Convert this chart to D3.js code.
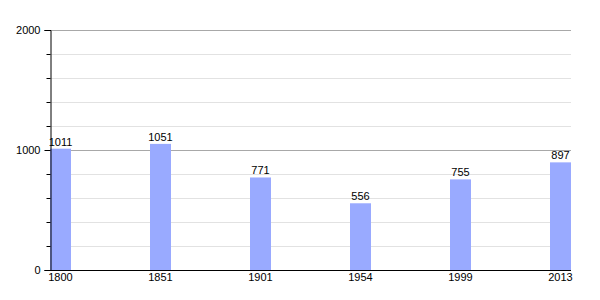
<!DOCTYPE html>
<html>
<head>
<meta charset="utf-8">
<script src="https://cdn.jsdelivr.net/npm/d3@7"></script>
<style>
  body { margin: 0; background: #fff; }
  svg text { font-family: "Liberation Sans", Arial, sans-serif; font-size: 11px; fill: #000; }
</style>
</head>
<body>
<div id="chart"></div>
<script>
const years = ["1800", "1851", "1901", "1954", "1999", "2013"];
const population = [1011, 1051, 771, 556, 755, 897];
const majorTicks = [0, 1000, 2000];
const minorTicks = [200, 400, 600, 800, 1200, 1400, 1600, 1800];

const WIDTH = 600;
const HEIGHT = 300;
const PLOT = { left: 50, right: 571, top: 30, bottom: 270 };
const BAR_WIDTH = 21;

const svg = d3.select("#chart")
  .append("svg")
  .attr("width", WIDTH)
  .attr("height", HEIGHT);

const x = d3.scalePoint().domain(years).range([PLOT.left, PLOT.left + 500]);
const y = d3.scaleLinear().domain([0, 2000]).range([PLOT.bottom, PLOT.top]);

// minor grid
svg.append("g")
  .selectAll("line")
  .data(minorTicks)
  .join("line")
  .attr("x1", PLOT.left)
  .attr("x2", PLOT.right)
  .attr("y1", (d) => y(d) + 0.5)
  .attr("y2", (d) => y(d) + 0.5)
  .attr("stroke", "#e2e2e2");

// major grid
svg.append("g")
  .selectAll("line")
  .data(majorTicks.filter((d) => d > 0))
  .join("line")
  .attr("x1", PLOT.left)
  .attr("x2", PLOT.right)
  .attr("y1", (d) => y(d) + 0.5)
  .attr("y2", (d) => y(d) + 0.5)
  .attr("stroke", "#a8a8a8");

// bars
svg.append("g")
  .selectAll("rect")
  .data(population)
  .join("rect")
  .attr("x", (d, i) => x(years[i]))
  .attr("y", (d) => y(d))
  .attr("width", BAR_WIDTH)
  .attr("height", (d) => y(0) - y(d))
  .attr("fill", "#99aaff");

// value labels
svg.append("g")
  .selectAll("text")
  .data(population)
  .join("text")
  .attr("x", (d, i) => x(years[i]) + BAR_WIDTH / 2)
  .attr("y", (d) => y(d) - 3)
  .attr("text-anchor", "middle")
  .text((d) => d);

// y axis
const yAxis = svg.append("g")
  .attr("transform", `translate(${PLOT.left + 0.5},0)`)
  .call(d3.axisLeft(y).tickValues(majorTicks).tickSize(6).tickPadding(4).tickFormat(d3.format("d")));
yAxis.select(".domain").attr("stroke", "#000");
yAxis.selectAll(".tick line").attr("stroke", "#000");
yAxis.selectAll("text").style("font-size", "11px");

svg.append("g")
  .attr("transform", `translate(${PLOT.left + 0.5},0)`)
  .call(d3.axisLeft(y).tickValues(minorTicks).tickSize(4).tickFormat(""))
  .call((g) => g.select(".domain").remove())
  .selectAll(".tick line").attr("stroke", "#000");

// x baseline
svg.append("line")
  .attr("x1", PLOT.left)
  .attr("x2", PLOT.right)
  .attr("y1", y(0) + 0.5)
  .attr("y2", y(0) + 0.5)
  .attr("stroke", "#000");

// x labels
svg.append("g")
  .selectAll("text")
  .data(years)
  .join("text")
  .attr("x", (d) => x(d) + BAR_WIDTH / 2)
  .attr("y", y(0) + 11)
  .attr("text-anchor", "middle")
  .text((d) => d);
</script>
</body>
</html>
